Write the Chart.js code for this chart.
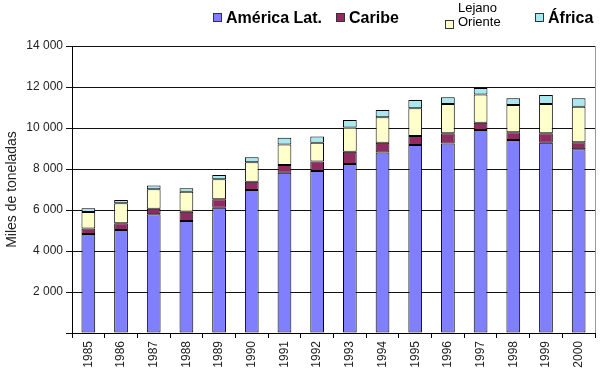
<!DOCTYPE html>
<html>
<head>
<meta charset="utf-8">
<script src="https://cdn.jsdelivr.net/npm/chart.js@4/dist/chart.umd.min.js"></script>
<style>
  body { margin: 0; background: #fff; }
  #wrap { position: relative; width: 600px; height: 375px; }
  #legend { position: absolute; left: 0; top: 0; width: 600px; height: 40px; font-family: "Liberation Sans", Arial, sans-serif; color: #000; }
  .item { position: absolute; white-space: nowrap; }
  .sw { position: absolute; width: 7px; height: 7px; border: 1px solid #333; }
  .big { font-size: 16px; font-weight: bold; }
  .small { font-size: 13px; line-height: 14px; }
</style>
</head>
<body>
<div id="wrap">
  <canvas id="myChart" width="600" height="375"></canvas>
  <div id="legend"></div>
</div>
<script>
// years on the x axis
const years = ['1985','1986','1987','1988','1989','1990','1991','1992','1993','1994','1995','1996','1997','1998','1999','2000'];

// miles de toneladas
const americaLat = [4830, 5020, 5790, 5460, 6110, 6980, 7820, 7900, 8240, 8810, 9170, 9250, 9900, 9410, 9280, 8960];
const caribe = [270, 330, 270, 460, 410, 400, 380, 460, 600, 470, 440, 490, 360, 380, 460, 340];
const lejanoOriente = [800, 980, 950, 970, 980, 950, 1000, 920, 1190, 1240, 1350, 1430, 1370, 1330, 1430, 1740];
const africa = [190, 160, 190, 170, 210, 240, 330, 300, 360, 360, 410, 330, 320, 330, 440, 410];

const yTicks = [0, 2000, 4000, 6000, 8000, 10000, 12000, 14000];

const colors = ['#8080ff', '#8e2c62', '#ffffcc', '#a8e8ee'];

// "14 000" style
function fmt(v) {
    if (v === 0) return '';
    return String(v).replace(/\B(?=(\d{3})+(?!\d))/g, ' ');
}

// grey frame line on the right of the plot
const rightLine = {
    id: 'rightLine',
    afterDraw(chart) {
        const a = chart.chartArea, ctx = chart.ctx;
        ctx.save();
        ctx.strokeStyle = '#999';
        ctx.lineWidth = 1;
        ctx.beginPath();
        ctx.moveTo(Math.round(a.right) + 0.5, a.top);
        ctx.lineTo(Math.round(a.right) + 0.5, a.bottom);
        ctx.stroke();
        ctx.restore();
    }
};

const ds = (label, data, i) => ({
    label: label,
    data: data,
    backgroundColor: colors[i],
    borderColor: '#000',
    borderWidth: 1,
    borderSkipped: false,
    categoryPercentage: 1,
    barPercentage: 0.42
});

new Chart(document.getElementById('myChart'), {
    type: 'bar',
    data: {
        labels: years,
        datasets: [
            ds('América Lat.', americaLat, 0),
            ds('Caribe', caribe, 1),
            ds(['Lejano', 'Oriente'], lejanoOriente, 2),
            ds('África', africa, 3)
        ]
    },
    options: {
        responsive: false,
        animation: false,
        layout: { padding: { top: 46, right: 5, left: 4, bottom: 0 } },
        plugins: {
            legend: { display: false },
            tooltip: { enabled: false }
        },
        scales: {
            x: {
                stacked: true,
                grid: { drawOnChartArea: false, drawTicks: true, tickLength: 5, color: '#000', offset: true },
                border: { color: '#000' },
                ticks: {
                    color: '#222',
                    font: { family: 'Liberation Sans', size: 12 },
                    maxRotation: 90, minRotation: 90,
                    padding: 3
                },
                afterFit(s) { s.height = 42; }
            },
            y: {
                stacked: true,
                min: 0, max: 14000,
                afterBuildTicks(s) { s.ticks = yTicks.map(v => ({ value: v })); },
                grid: { color: '#111', tickLength: 6 },
                border: { color: '#000' },
                ticks: {
                    color: '#222',
                    font: { family: 'Liberation Sans', size: 12 },
                    padding: 3,
                    callback: fmt
                },
                title: {
                    display: true,
                    text: 'Miles de toneladas',
                    color: '#222',
                    font: { family: 'Liberation Sans', size: 14 },
                    padding: 0
                },
                afterFit(s) { s.width = 68; }
            }
        }
    },
    plugins: [rightLine]
});

// legend built by hand: mixed font sizes like the original
const legendItems = [
    { text: 'América Lat.', cls: 'big', x: 213, sw: 13, ty: 9 },
    { text: 'Caribe', cls: 'big', x: 336, sw: 13, ty: 9 },
    { text: 'Lejano<br>Oriente', cls: 'small', x: 445, sw: 20, ty: 1 },
    { text: 'África', cls: 'big', x: 535, sw: 13, ty: 9 }
];
const leg = document.getElementById('legend');
legendItems.forEach((it, i) => {
    const sw = document.createElement('div');
    sw.className = 'sw';
    sw.style.left = it.x + 'px';
    sw.style.top = it.sw + 'px';
    sw.style.background = colors[i];
    leg.appendChild(sw);
    const t = document.createElement('div');
    t.className = 'item ' + it.cls;
    t.style.left = (it.x + 13) + 'px';
    t.style.top = it.ty + 'px';
    t.innerHTML = it.text;
    leg.appendChild(t);
});
</script>
</body>
</html>
